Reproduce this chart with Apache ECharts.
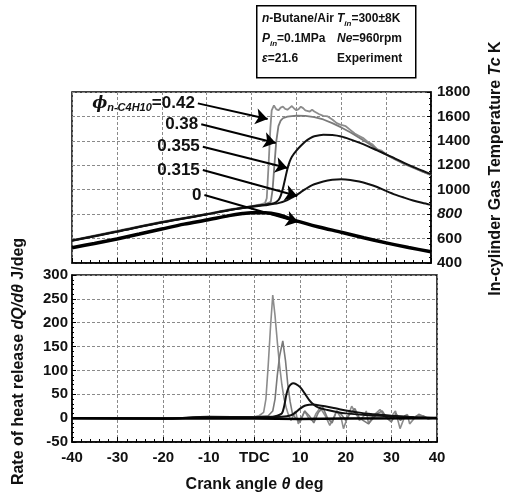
<!DOCTYPE html>
<html><head><meta charset="utf-8">
<script src="https://cdn.jsdelivr.net/npm/echarts@6/dist/echarts.min.js"></script>
<style>html,body{margin:0;padding:0;background:#fff}#c{width:512px;height:494px}</style>
</head><body><div id="c"></div>
<script>
const FONT = '"Liberation Sans", Arial, sans-serif';

// ---- Data (crank angle in deg, Tc in K, dQ/dθ in J/deg) ----
const crankTicks = [-40, -30, -20, -10, 0, 10, 20, 30, 40];
const tcTicks = [400, 600, 800, 1000, 1200, 1400, 1600, 1800];
const hrrTicks = [-50, 0, 50, 100, 150, 200, 250, 300];

const tc042 = [[-40,588],[-30,662],[-20,738],[-10,803],[-5,838],[0,866],[2,880],[3,890],[3.4,930],[3.8,1200],[4.2,1500],[4.5,1650],[5,1690],[5.5,1660],[6,1650],[6.5,1672],[7,1680],[7.5,1662],[8,1655],[8.5,1670],[9,1685],[9.5,1665],[10,1650],[10.5,1660],[11,1680],[11.5,1668],[12,1650],[13,1640],[13.5,1655],[14,1640],[15,1620],[16,1605],[17,1600],[18,1575],[19,1545],[20,1530],[21,1520],[22,1490],[23,1460],[24,1440],[25,1420],[26,1390],[27,1370],[28,1330],[29,1320],[30,1290],[31,1270],[32,1250],[33,1235],[34,1212],[35,1200],[36,1185],[37,1168],[38,1150],[39,1135],[40,1120]];
const tc038 = [[-40,583],[-30,657],[-20,733],[-10,798],[-5,833],[0,862],[3,880],[4.3,900],[4.7,1000],[5,1150],[5.5,1390],[6,1520],[6.5,1565],[7,1585],[8,1598],[9,1603],[10,1606],[12,1605],[14,1595],[16,1575],[18,1545],[20,1510],[22,1470],[24,1425],[26,1380],[28,1332],[30,1287],[32,1247],[34,1212],[36,1180],[38,1150],[40,1122]];
const tc0355 = [[-40,584],[-30,658],[-20,734],[-10,799],[-5,834],[0,862],[3,878],[5,890],[6,915],[6.5,950],[7,1010],[7.5,1090],[8,1170],[8.5,1230],[9,1270],[10,1320],[11,1360],[12,1395],[13,1420],[14,1437],[16,1450],[18,1447],[20,1435],[22,1412],[24,1385],[26,1355],[28,1322],[30,1290],[32,1255],[34,1220],[36,1187],[38,1157],[40,1128]];
const tc0315 = [[-40,582],[-30,656],[-20,732],[-10,797],[-5,832],[0,860],[3,873],[6,890],[8,915],[9,935],[10,955],[11,980],[12,1005],[13,1028],[14,1045],[16,1068],[18,1081],[20,1085],[22,1080],[24,1067],[26,1047],[28,1022],[30,990],[32,960],[34,935],[36,912],[38,893],[40,876]];
const tc000 = [[-40,525],[-35,560],[-30,597],[-25,637],[-20,678],[-15,718],[-10,752],[-5,788],[-2,805],[0,812],[3,812],[6,795],[10,745],[15,695],[20,652],[25,607],[30,565],[35,527],[40,492]];

const hrr042 = [[-40,0],[-30,0],[-20,-1],[-15,0],[-10,3],[-5,2],[0,3],[1,5],[2,12],[2.5,40],[3,110],[3.5,190],[4,258],[4.5,215],[5,160],[5.5,110],[6,70],[6.5,40],[7,20],[7.5,5],[8,-5],[8.5,5],[9,15],[9.6,-12],[10.5,5],[11,15],[12,-2],[12.8,-5],[13.5,10],[14.4,22],[15.5,5],[16.5,-15],[17.3,0],[18,15],[19,0],[19.5,-22],[20.5,5],[21.3,25],[22.5,5],[23,-5],[24,5],[24.5,15],[25,-12],[26,5],[27.5,18],[28.5,5],[29.5,-3],[30.9,15],[31.9,-22],[33,5],[33.5,8],[34,-12],[35.5,5],[37,5],[38,-2],[40,2]];
const hrr038 = [[-40,0],[-30,0],[-20,-1],[-10,3],[0,3],[3,5],[4,15],[4.5,40],[5,90],[5.5,130],[6.2,162],[6.8,120],[7.3,70],[7.8,35],[8.3,10],[9,0],[10,-8],[11,15],[12,5],[13,-10],[14,12],[15,22],[16,0],[17,-10],[18,15],[19,8],[20,-5],[21,10],[22,20],[23,0],[25,-12],[26,0],[27,10],[28,15],[29,0],[30,-8],[31,10],[32,-5],[33,5],[35,0],[36,8],[38,0],[40,0]];
const hrr0355 = [[-40,0],[-20,-1],[-10,3],[0,2],[4,3],[5,5],[6,10],[6.5,25],[7,50],[7.5,65],[8,71],[8.5,73],[9,72],[10,65],[11,52],[12,38],[13,28],[14,22],[16,17],[18,13],[20,10],[25,6],[30,4],[35,2],[40,1]];
const hrr0315 = [[-40,0],[-20,-1],[-10,2],[0,2],[6,3],[8,6],[9,12],[10,20],[11,26],[12,28],[13,28.5],[14,27],[16,24],[18,20],[20,16],[22,13],[25,9],[30,5],[35,2],[40,0]];
const hrr000 = [[-40,0],[-20,-1],[0,-1],[10,-2],[20,-1],[40,0]];

// annotation labels with arrows (data coords on the Tc panel)
const annotText = ['0.42', '0.38', '0.355', '0.315', '0'];
const arrowTail = [[-11.95,1707],[-11.2,1536],[-10.85,1352],[-10.85,1161],[-10.5,957]];
const arrowTip  = [[3.6,1579],[5.4,1382],[8.0,1178],[10.2,949],[10.4,736]];

// ---- Chart ----
const chart = echarts.init(document.getElementById('c'), null, {renderer: 'canvas'});
const grids = [
  {left: 72, right: 75, top: 92, height: 171, show: true, borderColor: '#000', borderWidth: 1.5},
  {left: 72, right: 75, top: 275, height: 174, show: true, borderColor: '#000', borderWidth: 1.5}
];
const splitDash = {show: true, lineStyle: {color: '#8a8a8a', type: [3, 2], width: 1}};
const bold15 = {fontFamily: FONT, fontWeight: 'bold', fontSize: 15, color: '#111'};
const bold16 = {fontFamily: FONT, fontWeight: 'bold', fontSize: 16, color: '#111'};
const titleStyle = Object.assign({rich: {i: Object.assign({fontStyle: 'italic'}, bold16)}}, bold16);

function xAx(idx, showLabels) {
  return {
    type: 'value', gridIndex: idx, min: crankTicks[0], max: crankTicks[crankTicks.length - 1], interval: 10,
    axisLine: {show: true, onZero: false, lineStyle: {color: '#000', width: 1.5}},
    axisTick: {show: true, inside: true, length: 5, lineStyle: {color: '#000'}},
    minorTick: {show: true, splitNumber: 5, length: 3, lineStyle: {color: '#000'}},
    splitLine: splitDash,
    axisLabel: Object.assign({show: showLabels, margin: 8, formatter: v => v === 0 ? 'TDC' : String(v)}, bold15),
    name: showLabels ? 'Crank angle {i|θ} deg' : '',
    nameLocation: 'middle', nameGap: 35,
    nameTextStyle: titleStyle
  };
}

const option = {
  animation: false,
  backgroundColor: '#fff',
  grid: grids,
  xAxis: [xAx(0, false), xAx(1, true)],
  yAxis: [
    {
      type: 'value', gridIndex: 0, position: 'right', min: tcTicks[0], max: tcTicks[tcTicks.length - 1], interval: 200,
      axisLine: {show: true, onZero: false, lineStyle: {color: '#000', width: 1.5}},
      axisTick: {show: true, inside: true, length: 4, lineStyle: {color: '#000'}},
      minorTick: {show: true, splitNumber: 4, length: 2, lineStyle: {color: '#000'}},
      splitLine: splitDash,
      axisLabel: Object.assign({margin: 6, formatter: v => v === 800 ? '{it|800}' : String(v),
        rich: {it: Object.assign({fontStyle: 'italic'}, bold15)}}, bold15),
      name: 'In-cylinder Gas Temperature {i|Tc} K', nameLocation: 'middle', nameGap: 57, nameRotate: 90,
      nameTextStyle: Object.assign({padding: [0, 0, 0, 18]}, titleStyle)
    },
    {
      type: 'value', gridIndex: 1, position: 'left', min: hrrTicks[0], max: hrrTicks[hrrTicks.length - 1], interval: 50,
      axisLine: {show: true, onZero: false, lineStyle: {color: '#000', width: 1.5}},
      axisTick: {show: true, inside: true, length: 4, lineStyle: {color: '#000'}},
      minorTick: {show: true, splitNumber: 5, length: 2, lineStyle: {color: '#000'}},
      splitLine: splitDash,
      axisLabel: Object.assign({margin: 4}, bold15),
      name: 'Rate of heat release {i|dQ/dθ} J/deg', nameLocation: 'middle', nameGap: 45, nameRotate: 90,
      nameTextStyle: Object.assign({padding: [0, 6, 0, 0]}, titleStyle)
    }
  ],
  series: [
    {type: 'line', xAxisIndex: 0, yAxisIndex: 0, data: tc042, showSymbol: false, lineStyle: {color: '#8c8c8c', width: 1.8}},
    {type: 'line', xAxisIndex: 0, yAxisIndex: 0, data: tc038, showSymbol: false, lineStyle: {color: '#7a7a7a', width: 1.8}},
    {type: 'line', xAxisIndex: 0, yAxisIndex: 0, data: tc0355, showSymbol: false, smooth: 0.3, lineStyle: {color: '#111', width: 2}},
    {type: 'line', xAxisIndex: 0, yAxisIndex: 0, data: tc0315, showSymbol: false, smooth: 0.3, lineStyle: {color: '#111', width: 2}},
    {type: 'line', xAxisIndex: 0, yAxisIndex: 0, data: tc000, showSymbol: false, smooth: 0.3, lineStyle: {color: '#000', width: 3.5},
      markLine: {
        silent: true, symbol: ['none', 'arrow'], symbolSize: 12,
        lineStyle: {color: '#000', width: 2, type: 'solid'}, label: {show: false},
        data: arrowTail.map((t, i) => [{coord: t}, {coord: arrowTip[i]}])
      },
      markPoint: {
        silent: true, symbol: 'circle', symbolSize: 0,
        label: {
          show: true, position: 'left', distance: 3,
          formatter: p => p.dataIndex === 0 ? '{phi|ϕ}{sub|n-C4H10}{m|=' + p.value + '}' : '{m|' + p.value + '}',
          rich: {
            m: Object.assign({}, bold15, {fontSize: 17, lineHeight: 20}),
            phi: {fontFamily: '"DejaVu Serif", serif', fontStyle: 'italic', fontWeight: 'bold', fontSize: 16, lineHeight: 20, color: '#111'},
            sub: {fontFamily: FONT, fontStyle: 'italic', fontWeight: 'bold', fontSize: 11, lineHeight: 20, verticalAlign: 'bottom', color: '#111'}
          }
        },
        data: arrowTail.map((t, i) => ({coord: t, value: annotText[i]}))
      }
    },
    {type: 'line', xAxisIndex: 1, yAxisIndex: 1, data: hrr042, showSymbol: false, lineStyle: {color: '#8c8c8c', width: 1.6}},
    {type: 'line', xAxisIndex: 1, yAxisIndex: 1, data: hrr038, showSymbol: false, lineStyle: {color: '#7a7a7a', width: 1.6}},
    {type: 'line', xAxisIndex: 1, yAxisIndex: 1, data: hrr0355, showSymbol: false, smooth: 0.3, lineStyle: {color: '#111', width: 2}},
    {type: 'line', xAxisIndex: 1, yAxisIndex: 1, data: hrr0315, showSymbol: false, smooth: 0.3, lineStyle: {color: '#111', width: 2}},
    {type: 'line', xAxisIndex: 1, yAxisIndex: 1, data: hrr000, showSymbol: false, lineStyle: {color: '#000', width: 2.5}}
  ],
  graphic: (function () {
    const it = {fontStyle: 'italic', fontWeight: 'bold', fontSize: 12, fontFamily: FONT};
    const sub = {fontStyle: 'italic', fontWeight: 'bold', fontSize: 8, fontFamily: FONT, verticalAlign: 'bottom', lineHeight: 17};
    const base = {font: 'bold 12px ' + FONT, fill: '#111', rich: {i: it, s: sub}};
    const t = (x, y, s) => ({type: 'text', left: x, top: y, z: 11, style: Object.assign({text: s}, base)});
    return [
      {type: 'rect', left: 256, top: 5, shape: {width: 159, height: 72}, style: {fill: '#fff', stroke: '#000', lineWidth: 1.5}, z: 10},
      t(262, 13, '{i|n}-Butane/Air'),
      t(337, 13, '{i|T}{s|in}=300±8K'),
      t(262, 33, '{i|P}{s|in}=0.1MPa'),
      t(337, 33, '{i|Ne}=960rpm'),
      t(262, 53, '{i|ε}=21.6'),
      t(337, 53, 'Experiment')
    ];
  })()
};
chart.setOption(option);
</script></body></html>
